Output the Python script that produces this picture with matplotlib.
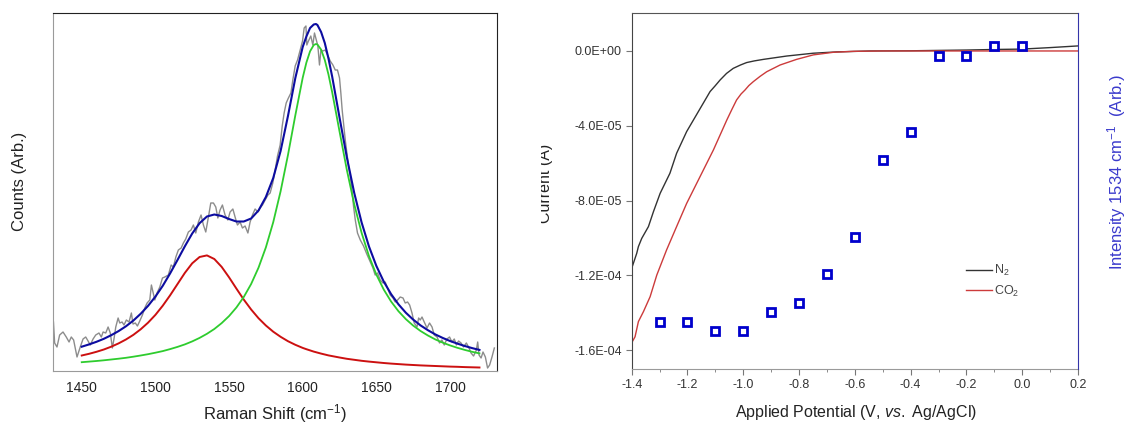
import matplotlib
matplotlib.use("Agg")
import matplotlib.pyplot as plt
from matplotlib import font_manager
from matplotlib.ticker import FormatStrFormatter, MultipleLocator
from matplotlib.transforms import Bbox, TransformedBbox

# ---- left: Raman spectrum with two-peak fit ----
raman_x = [1430.8, 1431.6, 1433.2, 1435.0, 1437.3, 1439.5, 1441.4, 1442.9, 1444.5, 1446.8,
           1449.0, 1450.9, 1452.7, 1454.3, 1455.8, 1457.7, 1459.5, 1461.7, 1463.3, 1464.5,
           1466.3, 1467.9, 1469.4, 1470.8, 1472.0, 1473.1, 1474.7, 1475.8, 1477.4, 1478.7,
           1480.3, 1482.1, 1483.7, 1484.8, 1486.4, 1487.8, 1489.4, 1491.2, 1492.8, 1494.4,
           1496.2, 1497.3, 1498.4, 1499.6, 1501.1, 1503.0, 1504.8, 1506.4, 1508.8, 1510.7,
           1512.2, 1513.9, 1515.6, 1517.5, 1519.0, 1520.6, 1522.4, 1524.2, 1525.8, 1527.4,
           1529.2, 1531.0, 1532.6, 1534.2, 1536.0, 1537.6, 1539.4, 1541.0, 1542.4, 1543.9,
           1545.5, 1547.3, 1549.2, 1550.7, 1552.6, 1554.1, 1555.7, 1557.5, 1559.1, 1560.9,
           1562.8, 1564.3, 1565.9, 1567.7, 1569.6, 1571.1, 1572.7, 1574.5, 1576.4, 1577.9,
           1579.7, 1581.3, 1582.9, 1584.7, 1586.1, 1587.4, 1588.8, 1590.3, 1592.0, 1593.3,
           1594.9, 1596.5, 1598.3, 1599.9, 1601.0, 1602.2, 1602.8, 1603.9, 1605.5, 1606.9,
           1608.0, 1609.2, 1610.3, 1611.4, 1612.4, 1613.7, 1615.3, 1616.9, 1618.7, 1620.5,
           1622.1, 1623.6, 1625.0, 1625.9, 1626.8, 1627.7, 1628.9, 1630.0, 1631.1, 1632.3,
           1633.4, 1634.5, 1635.7, 1637.2, 1639.1, 1641.3, 1643.5, 1645.9, 1647.7, 1649.2,
           1650.8, 1652.6, 1654.5, 1656.0, 1657.6, 1659.4, 1661.3, 1662.8, 1664.4, 1666.2,
           1668.1, 1669.6, 1671.2, 1672.6, 1674.2, 1675.7, 1677.6, 1678.7, 1679.8, 1681.0,
           1682.5, 1684.4, 1686.1, 1687.8, 1689.3, 1691.2, 1692.9, 1694.5, 1696.1, 1697.9,
           1699.7, 1701.3, 1702.9, 1704.3, 1705.8, 1707.5, 1709.2, 1711.1, 1712.6, 1714.3,
           1716.0, 1717.9, 1718.8, 1719.7, 1721.1, 1722.4, 1724.0, 1725.5, 1726.9, 1728.5,
           1730.1]
raman_y = [49, 28, 24, 36, 39, 34, 29, 34, 31, 14,
           24, 32, 34, 30, 26, 32, 36, 38, 34, 39,
           38, 44, 38, 23, 33, 44, 53, 48, 49, 46,
           51, 49, 58, 47, 48, 45, 50, 56, 63, 68,
           71, 86, 79, 71, 78, 84, 93, 94, 96, 106,
           104, 114, 121, 123, 128, 132, 139, 141, 146, 138,
           149, 156, 146, 139, 154, 168, 168, 164, 153, 161,
           166, 156, 151, 159, 162, 154, 146, 149, 143, 145,
           138, 149, 156, 162, 159, 163, 166, 171, 176, 178,
           188, 201, 215, 226, 245, 258, 268, 273, 278, 291,
           305, 311, 321, 330, 343, 345, 326, 330, 335, 326,
           338, 331, 325, 306, 321, 320, 321, 316, 310, 306,
           301, 301, 293, 278, 261, 248, 231, 218, 205, 195,
           181, 165, 151, 138, 131, 125, 117, 109, 103, 96,
           98, 91, 88, 89, 83, 76, 73, 69, 71, 74,
           73, 68, 69, 66, 58, 48, 44, 53, 51, 54,
           49, 43, 48, 44, 36, 34, 28, 31, 26, 32,
           34, 29, 32, 26, 30, 28, 24, 28, 24, 18,
           15, 21, 29, 16, 13, 19, 14, 3, 6, 14,
           23]

fit_x = [1450, 1455, 1460, 1465, 1470, 1475, 1480, 1485, 1490, 1495,
         1500, 1505, 1510, 1515, 1520, 1525, 1530, 1535, 1540, 1545,
         1550, 1555, 1560, 1565, 1570, 1575, 1580, 1585, 1590, 1595,
         1600, 1602.5, 1605, 1607.5, 1609, 1610, 1612.5, 1615, 1617.5, 1620,
         1625, 1630, 1635, 1640, 1645, 1650, 1655, 1660, 1665, 1670,
         1675, 1680, 1685, 1690, 1695, 1700, 1705, 1710, 1715, 1720]
fit_total = [24.3, 26.6, 29.2, 32.2, 35.8, 39.9, 44.7, 50.4, 57.2, 65.1,
             74.4, 85.2, 97.6, 111.0, 124.7, 137.5, 147.8, 154.5, 156.5, 155.0,
             152.0, 149.5, 149.5, 152.5, 160.5, 174.0, 193.0, 220.0, 255.0, 293.0,
             324.0, 334.5, 343.0, 346.5, 347.0, 346.0, 339.0, 328.0, 312.5, 294.5,
             253.5, 213.5, 178.0, 148.5, 124.5, 105.1, 89.5, 76.9, 66.7, 58.3,
             51.4, 45.6, 40.8, 36.6, 33.1, 30.0, 27.4, 25.0, 22.9, 21.1]
peak_1534 = [15.5, 17.2, 19.2, 21.5, 24.3, 27.6, 31.5, 36.1, 41.7, 48.3,
             56.1, 65.3, 75.7, 86.9, 98.1, 107.7, 114.0, 115.6, 112.0, 104.1,
             93.7, 82.4, 71.4, 61.5, 52.8, 45.5, 39.3, 34.2, 29.8, 26.2,
             23.1, 21.8, 20.6, 19.4, 18.8, 18.4, 17.4, 16.5, 15.6, 14.9,
             13.5, 12.2, 11.2, 10.2, 9.4, 8.7, 8.0, 7.4, 6.9, 6.4,
             6.0, 5.6, 5.3, 5.0, 4.7, 4.4, 4.2, 3.9, 3.7, 3.5]
peak_1609 = [8.8, 9.4, 10.0, 10.7, 11.5, 12.3, 13.2, 14.3, 15.5, 16.8,
             18.3, 19.9, 21.9, 24.1, 26.6, 29.6, 33.1, 37.2, 42.0, 47.9,
             54.9, 63.5, 74.0, 87.0, 103.3, 123.6, 148.8, 179.7, 216.0, 255.7,
             293.2, 308.4, 319.7, 326.0, 327.0, 326.5, 321.4, 311.0, 296.5, 278.9,
             239.6, 200.9, 166.6, 138.1, 114.9, 96.4, 81.5, 69.5, 59.8, 51.9,
             45.4, 40.0, 35.5, 31.6, 28.4, 25.6, 23.2, 21.1, 19.2, 17.6]
raman_ticks = [1450, 1500, 1550, 1600, 1650, 1700]

# ---- right: linear sweeps + 1534 band intensity ----
n2_v = [-1.4, -1.382, -1.376, -1.364, -1.34, -1.322, -1.298, -1.263, -1.239, -1.203,
        -1.161, -1.119, -1.10, -1.083, -1.06, -1.036, -1.01, -0.988, -0.96, -0.928,
        -0.844, -0.749, -0.665, -0.546, -0.4, -0.3, -0.2, -0.1, 0.0, 0.1, 0.2]
n2_i = [-1.162e-4, -1.082e-4, -1.046e-4, -1.002e-4, -9.39e-5, -8.59e-5, -7.61e-5, -6.54e-5,
        -5.47e-5, -4.31e-5, -3.24e-5, -2.17e-5, -1.85e-5, -1.55e-5, -1.2e-5, -9.3e-6,
        -7.5e-6, -6.2e-6, -5.3e-6, -4.5e-6, -2.7e-6, -1.2e-6, -5e-7, 0.0, 1e-7, 3e-7,
        5e-7, 8e-7, 1.0e-6, 1.8e-6, 2.7e-6]
co2_v = [-1.4, -1.388, -1.376, -1.358, -1.334, -1.31, -1.275, -1.239, -1.203, -1.155,
         -1.107, -1.059, -1.04, -1.024, -1.008, -0.994, -0.98, -0.964, -0.94, -0.916,
         -0.868, -0.809, -0.749, -0.677, -0.605, -0.5, 0.2]
co2_i = [-1.56e-4, -1.528e-4, -1.447e-4, -1.394e-4, -1.314e-4, -1.198e-4, -1.064e-4,
         -9.39e-5, -8.15e-5, -6.72e-5, -5.29e-5, -3.69e-5, -3.1e-5, -2.62e-5, -2.3e-5,
         -2.09e-5, -1.85e-5, -1.64e-5, -1.36e-5, -1.11e-5, -7.5e-6, -4.5e-6, -2.1e-6,
         -7e-7, -2e-7, 0.0, 0.0]
pot = [-1.3, -1.2, -1.1, -1.0, -0.9, -0.8, -0.7, -0.6, -0.5, -0.4, -0.3, -0.2, -0.1, 0.0]
intensity = [13.3, 13.3, 10.7, 10.7, 16.0, 18.7, 26.7, 37.2, 58.7, 66.5, 88.0, 88.0, 90.7, 90.7]
pot_ticks = [-1.4, -1.2, -1.0, -0.8, -0.6, -0.4, -0.2, 0.0, 0.2]
current_ticks = [-1.6e-4, -1.2e-4, -8e-5, -4e-5, 0.0]

installed = {f.name for f in font_manager.fontManager.ttflist}
narrow = 'Liberation Sans Narrow' if 'Liberation Sans Narrow' in installed else 'Liberation Sans'

plt.rcParams['font.family'] = 'Liberation Sans'
plt.rcParams['mathtext.fontset'] = 'custom'
plt.rcParams['mathtext.rm'] = 'Liberation Sans'
plt.rcParams['mathtext.it'] = 'Liberation Sans:italic'

W, H = 1126, 428
fig = plt.figure(figsize=(W / 100, H / 100), dpi=100)


def box(x0, y0, x1, y1):
    # pixel box -> figure fraction
    return [x0 / W, 1 - y1 / H, (x1 - x0) / W, (y1 - y0) / H]


ax1 = fig.add_axes(box(53.3, 13.3, 496.7, 371))
ax1.plot(raman_x, raman_y, color='#8c8c8c', lw=1.0, zorder=1)
ax1.plot(fit_x, peak_1534, color='#cc1010', lw=1.4, zorder=2)
ax1.plot(fit_x, peak_1609, color='#2ecc2e', lw=1.3, zorder=2)
ax1.plot(fit_x, fit_total, color='#0c0ca0', lw=1.5, zorder=3)
ax1.set_xlim(1430.7, 1731.7)
ax1.set_ylim(0, 357.7)
ax1.set_xticks(raman_ticks)
ax1.set_yticks([])
ax1.tick_params(axis='x', length=0, pad=7, labelsize=10, labelcolor='#222222')
for s in ('left', 'bottom'):
    ax1.spines[s].set_color('#9a9a9a')
for s in ('top', 'right'):
    ax1.spines[s].set_color('#222222')
ax1.set_xlabel('Raman Shift (cm$^{-1}$)', fontsize=12, color='#222222')
ax1.xaxis.set_label_coords(0.5, -0.087)
ax1.set_ylabel('Counts (Arb.)', fontsize=12, color='#222222')
ax1.yaxis.set_label_coords(-0.0593, 0.531)

ax2 = fig.add_axes(box(631.7, 13, 1078, 369.3))
ax2.plot(n2_v, n2_i, color='#333333', lw=1.0, label='N$_2$')
ax2.plot(co2_v, co2_i, color='#cc3b3b', lw=1.0, label='CO$_2$')
ax2.set_xlim(-1.4, 0.2)
ax2.set_ylim(-1.702e-4, 2.03e-5)
ax2.set_xticks(pot_ticks)
ax2.set_yticks(current_ticks)
ax2.xaxis.set_minor_locator(MultipleLocator(0.1))
ax2.xaxis.set_major_formatter(FormatStrFormatter('%.1f'))
ax2.yaxis.set_major_formatter(FormatStrFormatter('%.1E'))
ax2.tick_params(axis='x', which='major', length=4, color='#777777', pad=3)
ax2.tick_params(axis='x', which='minor', length=2.5, color='#777777')
ax2.tick_params(axis='y', length=4, color='#777777', pad=3)
for lab in ax2.get_xticklabels() + ax2.get_yticklabels():
    lab.set_fontfamily(narrow)
    lab.set_fontsize(10.5 if narrow != 'Liberation Sans' else 9)
    lab.set_color('#333333')
ax2.spines['left'].set_color('#444444')
ax2.spines['top'].set_color('#555555')
ax2.spines['bottom'].set_color('#9a9a9a')
ax2.spines['right'].set_visible(False)
ax2.set_xlabel('Applied Potential (V, $\\mathit{vs.}$ Ag/AgCl)', fontsize=11.5, color='#222222')
ax2.xaxis.set_label_coords(0.5026, -0.0946)
ax2.legend(loc='center left', bbox_to_anchor=(966 / W, 1 - 281 / H), bbox_transform=fig.transFigure,
           frameon=False, handlelength=2.1, handletextpad=0.15, labelspacing=0.45, borderpad=0,
           borderaxespad=0, prop={'family': narrow, 'size': 9}, labelcolor='#444444')

ax3 = ax2.twinx()
ax3.plot(pot, intensity, ls='none', marker='s', ms=6.0, mew=2.0, mec='#0000cc', mfc='white')
ax3.set_ylim(0, 100)
ax3.set_yticks([])
for s in ('left', 'top', 'bottom'):
    ax3.spines[s].set_visible(False)
ax3.spines['right'].set_color('#3535a8')
ax3.set_ylabel('Intensity 1534 cm$^{-1}$  (Arb.)', fontsize=12, color='#3a3acc')
ax3.yaxis.set_label_coords(1.0605, 0.555)

# y label of the right panel is cut off by the panel edge in the original
t = fig.text(553 / W, 1 - 183 / H, 'Current (A)', rotation=90, ha='right', va='center',
             fontsize=11.5, color='#222222', clip_on=True)
t.set_clip_box(TransformedBbox(Bbox.from_extents(541 / W, 0, 600 / W, 1), fig.transFigure))

fig.savefig('out.png', dpi=100)
